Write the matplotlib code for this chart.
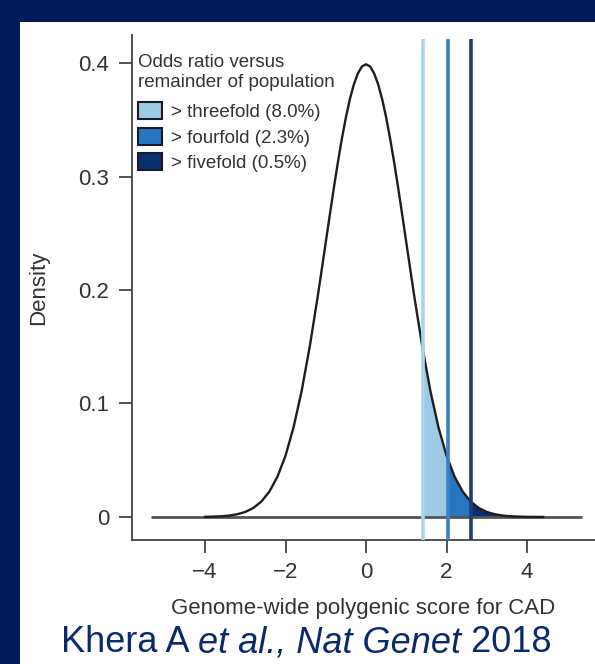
import numpy as np
import matplotlib as mpl
import matplotlib.pyplot as plt
from matplotlib.patches import Rectangle, Patch

mpl.rcParams['font.family'] = ['Liberation Sans', 'DejaVu Sans']

# density of the polygenic score
score = [-4.0, -3.8, -3.6, -3.4, -3.2, -3.0, -2.8, -2.6, -2.4, -2.2, -2.0,
         -1.8, -1.6, -1.4, -1.2, -1.0, -0.9, -0.8, -0.7, -0.6, -0.5, -0.4, -0.3, -0.2, -0.1, 0.0,
         0.1, 0.2, 0.3, 0.4, 0.5, 0.6, 0.7, 0.8, 0.9, 1.0, 1.2, 1.4, 1.6, 1.8, 2.0,
         2.2, 2.4, 2.6, 2.8, 3.0, 3.2, 3.4, 3.6, 3.8, 4.0, 4.4]
density = [0.0001, 0.0003, 0.0006, 0.0012, 0.0024, 0.0044, 0.0079, 0.0136, 0.0224, 0.0355, 0.0540,
           0.0790, 0.1109, 0.1497, 0.1942, 0.2420, 0.2661, 0.2897, 0.3123, 0.3332, 0.3521,
           0.3683, 0.3814, 0.3910, 0.3970, 0.3989,
           0.3970, 0.3910, 0.3814, 0.3683, 0.3521, 0.3332, 0.3123, 0.2897, 0.2661, 0.2420,
           0.1942, 0.1497, 0.1109, 0.0790, 0.0540,
           0.0355, 0.0224, 0.0136, 0.0079, 0.0044, 0.0024, 0.0012, 0.0006, 0.0003, 0.0001, 0.0]

baseline_range = [-5.35, 5.37]
thresholds = [1.42, 2.03, 2.62]
tail_end = 5.37
labels = ['> threefold (8.0%)', '> fourfold (2.3%)', '> fivefold (0.5%)']
fill_colors = ['#9ecae4', '#2676c0', '#0a2f6e']
line_colors = ['#a9d2ec', '#3c80c6', '#1e3b7a']
legend_title = 'Odds ratio versus\nremainder of population'
caption_parts = [('Khera A ', 'normal'), ('et al., Nat Genet', 'italic'), (' 2018', 'normal')]

navy = '#021a5a'

fig = plt.figure(figsize=(5.95, 6.64), dpi=100, facecolor=navy)
# white panel inside the navy frame
fig.patches.append(Rectangle((20 / 595, 0), 1 - 20 / 595, 1 - 22 / 664,
                             transform=fig.transFigure, facecolor='white',
                             edgecolor='none', zorder=-5))

ax = fig.add_axes([132 / 595, 124 / 664, 463 / 595, 505 / 664])
ax.set_zorder(2)
ax.set_facecolor('none')
ax.set_xlim(-5.814, 5.689)
ax.set_ylim(-0.0203, 0.4247)

# shaded tail bands
edges = thresholds + [tail_end]
for i in range(3):
    poly = ax.fill_between(score, 0, density, color=fill_colors[i], linewidth=0, zorder=2)
    clip = Rectangle((edges[i], -1), edges[i + 1] - edges[i], 2, transform=ax.transData)
    poly.set_clip_path(clip)

ax.plot(baseline_range, [0, 0], color='#555555', lw=2.0, zorder=3, solid_capstyle='butt')
ax.plot(score, density, color='#1e1e1e', lw=1.7, zorder=4)

for t, c in zip(thresholds, line_colors):
    ax.plot([t, t], [-0.0203, 0.4215], color=c, lw=2.6, zorder=5, solid_capstyle='butt')

for side in ['top', 'right']:
    ax.spines[side].set_visible(False)
for side in ['left', 'bottom']:
    ax.spines[side].set_color('#444444')
    ax.spines[side].set_linewidth(1.3)

ax.set_xticks([-4, -2, 0, 2, 4])
ax.set_xticklabels(['\u22124', '\u22122', '0', '2', '4'])
ax.set_yticks([0, 0.1, 0.2, 0.3, 0.4])
ax.set_yticklabels(['0', '0.1', '0.2', '0.3', '0.4'])
ax.tick_params(axis='both', length=9.5, width=1.3, color='#444444',
               labelsize=16, labelcolor='#333333')
ax.tick_params(axis='y', pad=7)
ax.tick_params(axis='x', pad=6)

ax.set_xlabel('Genome-wide polygenic score for CAD', fontsize=16, color='#333333')
ax.xaxis.set_label_coords(0.5, -0.115)
ax.set_ylabel('Density', fontsize=16, color='#333333')
ax.yaxis.set_label_coords(-0.18, 0.5)

# legend title as its own text, entries as a plain legend below it
ax.text(0.013, 0.962, legend_title, transform=ax.transAxes, ha='left', va='top',
        fontsize=13.5, color='#333333', linespacing=1.2)
handles = [Patch(facecolor=c, edgecolor='#1a1a2a', linewidth=1.5) for c in fill_colors]
leg = ax.legend(handles, labels, loc='upper left',
                bbox_to_anchor=(0.012, 0.867), frameon=False, fontsize=13.5,
                handlelength=1.3, handleheight=1.0, handletextpad=0.5,
                labelspacing=0.36, borderpad=0, borderaxespad=0)
for txt in leg.get_texts():
    txt.set_color('#333333')

# caption, written piece by piece so the middle part can be italic
renderer = fig.canvas.get_renderer()
pieces = []
for s, style in caption_parts:
    pieces.append(fig.text(0, 1 - 643 / 664, s, ha='left', va='center', fontsize=26,
                           fontstyle=style, color='#0b2a6e'))
widths = [p.get_window_extent(renderer).width for p in pieces]
x0 = 306 - sum(widths) / 2
for p, w in zip(pieces, widths):
    p.set_x(x0 / 595)
    x0 += w

fig.savefig('out.png', dpi=100, facecolor=fig.get_facecolor())
